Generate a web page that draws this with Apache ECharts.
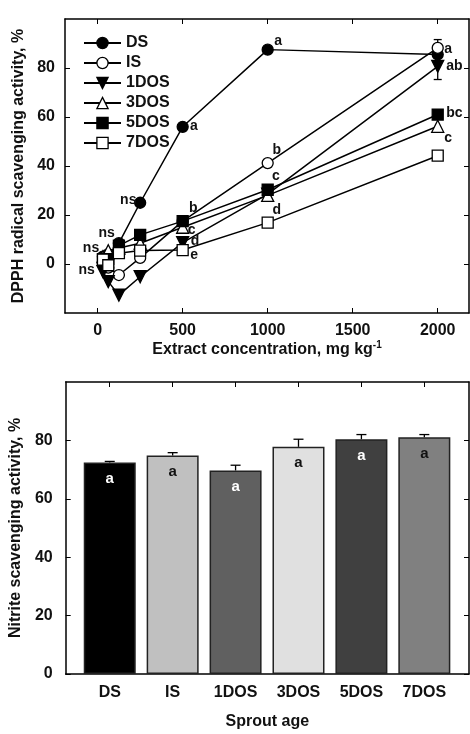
<!DOCTYPE html>
<html><head><meta charset="utf-8">
<script src="https://cdn.jsdelivr.net/npm/echarts@6/dist/echarts.min.js"></script>
<style>html,body{margin:0;padding:0;background:#fff}#c{width:470px;height:734px}</style>
</head><body><div id="c"></div>
<script>
// ---- Top chart data (DPPH radical scavenging activity, %) ----
const concentrations = [31.25, 62.5, 125, 250, 500, 1000, 2000];
const seriesNames = ['DS', 'IS', '1DOS', '3DOS', '5DOS', '7DOS'];
const dsValues   = [3, 4, 8.5, 25, 56, 87.5, 85.5];
const isValues   = [1, -1.5, -4.5, 2.5, 17.5, 41.2, 88.2];
const dos1Values = [-3.1, -7.2, -12.7, -5.2, 8.7, 28.5, 80.7];
const dos3Values = [3, 5.4, 6.5, 8.5, 15, 28, 56.2];
const dos5Values = [2, 2, 7.5, 11.9, 17.5, 30.3, 61];
const dos7Values = [1.8, -0.5, 4.4, 5.5, 5.7, 16.9, 44.2];
const dsErr   = [0, 0, 0, 0, 0, 0, 0];
const isErr   = [0, 0, 0, 0, 0, 0, 3.4];
const dos1Err = [0, 0, 0, 0, 0, 0, 5.4];
const dos3Err = [0, 0, 0, 0, 0, 0, 0];
const dos5Err = [0, 0, 0, 0, 0, 0, 0];
const dos7Err = [0, 0, 0, 0, 0, 0, 0];
const xTicksTop = [0, 500, 1000, 1500, 2000];
const yTicksTop = [0, 20, 40, 60, 80];
// significance letters [x, y, text]
const letterMarks = [
  [1062, 90.9, 'a'], [566, 56.4, 'a'], [2062, 87.5, 'a'], [2098, 80.7, 'ab'],
  [2098, 61.6, 'bc'], [2062, 51.4, 'c'], [1053, 46.6, 'b'], [1049, 35.7, 'c'],
  [1053, 21.8, 'd'], [562, 22.8, 'b'], [553, 13.9, 'c'], [572, 9.5, 'd'],
  [568, 3.7, 'e'], [180, 26.2, 'ns'], [53, 12.6, 'ns'], [-39, 6.4, 'ns'], [-65, -2.5, 'ns']
];

// ---- Bottom chart data (Nitrite scavenging activity, %) ----
const sprouts = ['DS', 'IS', '1DOS', '3DOS', '5DOS', '7DOS'];
const nitriteValues = [72.4, 74.8, 69.7, 77.8, 80.4, 81.1];
const nitriteErr = [0.4, 1.0, 1.8, 2.6, 1.6, 0.9];
const nitriteLetters = ['a', 'a', 'a', 'a', 'a', 'a'];
const barColors = ['#000000', '#c0c0c0', '#606060', '#e0e0e0', '#404040', '#808080'];
const letterColors = ['#ffffff', '#111111', '#ffffff', '#111111', '#ffffff', '#111111'];
const yTicksBottom = [0, 20, 40, 60, 80];

const FONT = 'Liberation Sans, Arial, sans-serif';
const lineSets = [dsValues, isValues, dos1Values, dos3Values, dos5Values, dos7Values];
const errSets = [dsErr, isErr, dos1Err, dos3Err, dos5Err, dos7Err];
const symbols = ['circle', 'circle', 'triangle', 'triangle', 'rect', 'rect'];
const rotates = [0, 0, 180, 0, 0, 0];
const fills = ['#000', '#fff', '#000', '#fff', '#000', '#fff'];

const axisLineStyle = { show: true, onZero: false, lineStyle: { color: '#000', width: 1.5 } };
const labelStyle = { fontFamily: FONT, fontWeight: 'bold', fontSize: 16, color: '#111' };

function errRender(params, api) {
  const x = api.value(0), y = api.value(1), e = api.value(2);
  if (!e) return null;
  const t = api.coord([x, y + e]), b = api.coord([x, y - e]);
  const w = 4, st = { stroke: '#000', lineWidth: 1.3 };
  return { type: 'group', children: [
    { type: 'line', shape: { x1: t[0], y1: t[1], x2: b[0], y2: b[1] }, style: st },
    { type: 'line', shape: { x1: t[0] - w, y1: t[1], x2: t[0] + w, y2: t[1] }, style: st },
    { type: 'line', shape: { x1: b[0] - w, y1: b[1], x2: b[0] + w, y2: b[1] }, style: st }
  ]};
}
function barErrRender(params, api) {
  const x = api.value(0), y = api.value(1), e = api.value(2);
  const t = api.coord([x, y + e]), b = api.coord([x, y]);
  const w = 5, st = { stroke: '#000', lineWidth: 1.3 };
  return { type: 'group', children: [
    { type: 'line', shape: { x1: t[0], y1: t[1], x2: b[0], y2: b[1] }, style: st },
    { type: 'line', shape: { x1: t[0] - w, y1: t[1], x2: t[0] + w, y2: t[1] }, style: st }
  ]};
}
function letterRender(params, api) {
  const p = api.coord([api.value(0), api.value(1)]);
  return { type: 'text', x: p[0], y: p[1], style: {
    text: letterMarks[params.dataIndex][2], align: 'center', verticalAlign: 'middle',
    fontFamily: FONT, fontWeight: 'bold', fontSize: 14, fill: '#111' } };
}

const series = [];
lineSets.forEach((vals, i) => {
  series.push({
    name: seriesNames[i], type: 'line', xAxisIndex: 0, yAxisIndex: 0,
    data: concentrations.map((c, j) => [c, vals[j]]),
    symbol: symbols[i], symbolSize: i === 2 || i === 3 ? 12 : 11, symbolRotate: rotates[i],
    lineStyle: { color: '#000', width: 1.5 },
    itemStyle: { color: fills[i], borderColor: '#000', borderWidth: 1.3 },
    z: 3 + i
  });
});
errSets.forEach((errs, i) => {
  series.push({
    type: 'custom', xAxisIndex: 0, yAxisIndex: 0, renderItem: errRender,
    data: concentrations.map((c, j) => [c, lineSets[i][j], errs[j]]), z: 2
  });
});
series.push({
  type: 'custom', xAxisIndex: 0, yAxisIndex: 0, renderItem: letterRender,
  data: letterMarks.map(m => [m[0], m[1]]), z: 10
});
series.push({
  type: 'bar', xAxisIndex: 2, yAxisIndex: 2, barWidth: 52,
  data: nitriteValues.map((v, i) => ({
    value: [i, v],
    itemStyle: { color: barColors[i], borderColor: '#222', borderWidth: 1.5 },
    label: { show: true, position: 'insideTop', distance: 9, formatter: nitriteLetters[i],
      color: letterColors[i], fontFamily: FONT, fontWeight: 'bold', fontSize: 15 }
  })),
  z: 3
});
series.push({
  type: 'custom', xAxisIndex: 2, yAxisIndex: 2, renderItem: barErrRender,
  data: nitriteValues.map((v, i) => [i, v, nitriteErr[i]]), z: 4
});

const plain = v => String(v);
const option = {
  backgroundColor: '#fff',
  animation: false,
  grid: [
    { left: 65, top: 19, width: 404, height: 294 },
    { left: 63, top: 382, width: 406, height: 292 }
  ],
  legend: {
    data: seriesNames, orient: 'vertical', left: 78, top: 30, itemGap: 4,
    itemWidth: 37, itemHeight: 14, itemStyle: { borderColor: '#000', borderWidth: 1.3 },
    lineStyle: { width: 2, color: '#000' },
    textStyle: { fontFamily: FONT, fontWeight: 'bold', fontSize: 16, color: '#111', lineHeight: 16 }
  },
  xAxis: [
    { gridIndex: 0, type: 'value', min: -192, max: 2184, position: 'bottom',
      axisLine: axisLineStyle, splitLine: { show: false },
      axisTick: { inside: true, length: 5, customValues: xTicksTop, lineStyle: { color: '#000' } },
      axisLabel: Object.assign({ customValues: xTicksTop, margin: 10, formatter: plain }, labelStyle),
      name: 'Extract concentration, mg kg{sup|-1}', nameLocation: 'middle', nameGap: 26,
      nameTextStyle: Object.assign({ rich: { sup: { fontFamily: FONT, fontWeight: 'bold', fontSize: 10, padding: [0, 0, 9, 0] } } }, labelStyle) },
    { gridIndex: 0, type: 'value', min: -192, max: 2184, position: 'top',
      axisLine: axisLineStyle, splitLine: { show: false },
      axisTick: { inside: true, length: 5, customValues: xTicksTop, lineStyle: { color: '#000' } },
      axisLabel: { show: false } },
    { gridIndex: 1, type: 'value', min: -0.7, max: 5.71, position: 'bottom',
      axisLine: axisLineStyle, splitLine: { show: false },
      axisTick: { show: false },
      axisLabel: Object.assign({ customValues: [0, 1, 2, 3, 4, 5], margin: 11,
        formatter: v => sprouts[Math.round(v)] }, labelStyle),
      name: 'Sprout age', nameLocation: 'middle', nameGap: 40, nameTextStyle: labelStyle },
    { gridIndex: 1, type: 'value', min: -0.7, max: 5.71, position: 'top',
      axisLine: axisLineStyle, splitLine: { show: false },
      axisTick: { inside: true, length: 5, customValues: [0, 1, 2, 3, 4, 5], lineStyle: { color: '#000' } },
      axisLabel: { show: false } }
  ],
  yAxis: [
    { gridIndex: 0, type: 'value', min: -20, max: 100, position: 'left',
      axisLine: axisLineStyle, splitLine: { show: false },
      axisTick: { inside: true, length: 5, customValues: yTicksTop, lineStyle: { color: '#000' } },
      axisLabel: Object.assign({ customValues: yTicksTop, margin: 10, formatter: plain }, labelStyle),
      name: 'DPPH radical scavenging activity, %', nameLocation: 'middle', nameGap: 38,
      nameTextStyle: labelStyle },
    { gridIndex: 0, type: 'value', min: -20, max: 100, position: 'right',
      axisLine: axisLineStyle, splitLine: { show: false },
      axisTick: { inside: true, length: 5, customValues: yTicksTop, lineStyle: { color: '#000' } },
      axisLabel: { show: false } },
    { gridIndex: 1, type: 'value', min: 0, max: 100, position: 'left',
      axisLine: axisLineStyle, splitLine: { show: false },
      axisTick: { inside: true, length: 5, customValues: yTicksBottom, lineStyle: { color: '#000' } },
      axisLabel: Object.assign({ customValues: yTicksBottom, margin: 13, formatter: plain }, labelStyle),
      name: 'Nitrite scavenging activity, %', nameLocation: 'middle', nameGap: 38,
      nameTextStyle: labelStyle },
    { gridIndex: 1, type: 'value', min: 0, max: 100, position: 'right',
      axisLine: axisLineStyle, splitLine: { show: false },
      axisTick: { inside: true, length: 5, customValues: yTicksBottom, lineStyle: { color: '#000' } },
      axisLabel: { show: false } }
  ],
  series: series
};
const chart = echarts.init(document.getElementById('c'), null, { renderer: 'canvas' });
chart.setOption(option);
</script>
</body></html>
